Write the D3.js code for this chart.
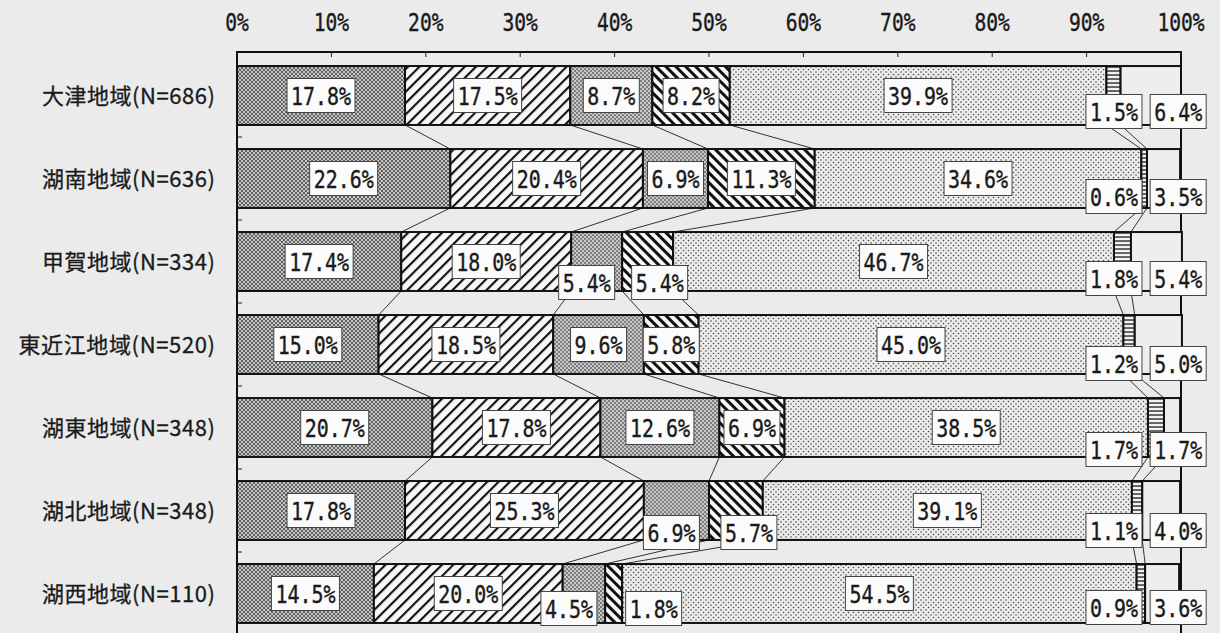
<!DOCTYPE html>
<html>
<head>
<meta charset="utf-8">
<script src="https://cdn.jsdelivr.net/npm/d3@7"></script>
<style>
  body { margin: 0; background: #ebebeb; }
  svg { display: block; }
</style>
</head>
<body>
<svg id="chart" width="1220" height="633"></svg>
<script>
// regions (top to bottom)
const regions = ['大津地域(N=686)', '湖南地域(N=636)', '甲賀地域(N=334)', '東近江地域(N=520)',
  '湖東地域(N=348)', '湖北地域(N=348)', '湖西地域(N=110)']

// shares in %, seven answer groups per region
const otsu = [17.8, 17.5, 8.7, 8.2, 39.9, 1.5, 6.4]
const konan = [22.6, 20.4, 6.9, 11.3, 34.6, 0.6, 3.5]
const koka = [17.4, 18.0, 5.4, 5.4, 46.7, 1.8, 5.4]
const higashiOmi = [15.0, 18.5, 9.6, 5.8, 45.0, 1.2, 5.0]
const koto = [20.7, 17.8, 12.6, 6.9, 38.5, 1.7, 1.7]
const kohoku = [17.8, 25.3, 6.9, 5.7, 39.1, 1.1, 4.0]
const kosei = [14.5, 20.0, 4.5, 1.8, 54.5, 0.9, 3.6]
const rows = [otsu, konan, koka, higashiOmi, koto, kohoku, kosei]

const tickValues = [0, 10, 20, 30, 40, 50, 60, 70, 80, 90, 100]

// hand placed labels: "row-series" -> nudge (px) from the segment centre
const nudges = {
  '2-2': [-10, 21], '2-3': [12, 21],
  '5-2': [-5, 22], '5-3': [13, 22],
  '6-2': [-15, 15], '6-3': [40, 15]
}
// the two small tail groups get fixed slots under the right end
const tailSlots = [92.9, 99.7]
const tailDy = [16, 18, 17, 19, 22, 20, 14]

const svg = d3.select('#chart')
const defs = svg.append('defs')

const x = d3.scaleLinear().domain([0, 100]).range([237, 1181])
const y = d3.scaleBand().domain(regions).range([54, 635])
  .paddingInner(0.29).paddingOuter(0.145)

// ---- fill patterns (scanned b/w hatches) ----
function pattern(id, w, h, bg, transform) {
  const p = defs.append('pattern').attr('id', id)
    .attr('patternUnits', 'userSpaceOnUse')
    .attr('width', w).attr('height', h)
  if (transform) p.attr('patternTransform', transform)
  p.append('rect').attr('width', w).attr('height', h).attr('fill', bg)
  return p
}
// 1: cross hatch, mid grey
let p = pattern('p0', 4, 4, '#c8c8c8')
p.append('path').attr('d', 'M0,0L4,4M4,0L0,4').attr('stroke', '#555').attr('stroke-width', 0.9)
// 2: forward diagonal
p = pattern('p1', 8, 8, '#f7f7f7', 'rotate(45)')
p.append('line').attr('x1', 1).attr('x2', 1).attr('y1', 0).attr('y2', 8).attr('stroke', '#111').attr('stroke-width', 2.3)
// 3: dark stipple
p = pattern('p2', 4, 4, '#7d7d7d')
p.append('circle').attr('cx', 1).attr('cy', 1).attr('r', 0.9).attr('fill', '#eee')
p.append('circle').attr('cx', 3).attr('cy', 3).attr('r', 0.9).attr('fill', '#eee')
// 4: back diagonal, heavy
p = pattern('p3', 7, 7, '#f7f7f7', 'rotate(-45)')
p.append('line').attr('x1', 1.5).attr('x2', 1.5).attr('y1', 0).attr('y2', 7).attr('stroke', '#111').attr('stroke-width', 3)
// 5: light dots
p = pattern('p4', 5, 5, '#ececec')
p.append('circle').attr('cx', 1).attr('cy', 1).attr('r', 0.8).attr('fill', '#444')
p.append('circle').attr('cx', 3.5).attr('cy', 3.5).attr('r', 0.8).attr('fill', '#444')
// 6: horizontal lines
p = pattern('p5', 4, 4, '#f4f4f4')
p.append('line').attr('x1', 0).attr('x2', 4).attr('y1', 1).attr('y2', 1).attr('stroke', '#333').attr('stroke-width', 1.5)
const fills = ['url(#p0)', 'url(#p1)', 'url(#p2)', 'url(#p3)', 'url(#p4)', 'url(#p5)', '#eeeeee']

// cumulative positions
const stacks = rows.map(r => {
  let acc = 0
  return r.map(v => { const s = { x0: acc, x1: acc + v, v: v }; acc += v; return s })
})

// ---- frame ----
svg.append('rect').attr('x', x(0)).attr('y', 52)
  .attr('width', x(100) - x(0)).attr('height', 640)
  .attr('fill', 'none').attr('stroke', '#111').attr('stroke-width', 2)

svg.append('g').selectAll('line').data(tickValues).join('line')
  .attr('x1', d => x(d)).attr('x2', d => x(d))
  .attr('y1', 52).attr('y2', 57)
  .attr('stroke', '#222')

svg.append('g').selectAll('line').data(d3.range(1, regions.length)).join('line')
  .attr('x1', x(0)).attr('x2', x(0) + 5)
  .attr('y1', i => y.range()[0] + i * y.step())
  .attr('y2', i => y.range()[0] + i * y.step())
  .attr('stroke', '#222')

// ---- connector lines between bars ----
const links = []
for (let i = 0; i < rows.length - 1; i++) {
  for (let k = 0; k < 6; k++) {
    links.push({ a: stacks[i][k].x1, b: stacks[i + 1][k].x1, i: i })
  }
}
svg.append('g').selectAll('line').data(links).join('line')
  .attr('x1', d => x(d.a)).attr('y1', d => y(regions[d.i]) + y.bandwidth())
  .attr('x2', d => x(d.b)).attr('y2', d => y(regions[d.i + 1]))
  .attr('stroke', '#333').attr('stroke-width', 1)

// ---- bars ----
const bar = svg.append('g').selectAll('g').data(stacks).join('g')
  .attr('transform', (d, i) => 'translate(0,' + y(regions[i]) + ')')

bar.selectAll('rect').data(d => d).join('rect')
  .attr('x', d => x(d.x0))
  .attr('width', d => x(d.x1) - x(d.x0))
  .attr('height', y.bandwidth())
  .attr('fill', (d, k) => fills[k])
  .attr('stroke', '#111').attr('stroke-width', 2)

// ---- value labels ----
const labels = []
stacks.forEach((r, i) => r.forEach((s, k) => {
  let cx = x((s.x0 + s.x1) / 2)
  let cy = y(regions[i]) + y.bandwidth() / 2
  if (k >= 5) {
    cx = x(tailSlots[k - 5])
    cy += tailDy[i]
  } else if (nudges[i + '-' + k]) {
    cx += nudges[i + '-' + k][0]
    cy += nudges[i + '-' + k][1]
  }
  labels.push({ text: s.v.toFixed(1) + '%', cx: cx, cy: cy })
}))

const lab = svg.append('g').selectAll('g').data(labels).join('g')
  .attr('transform', d => 'translate(' + d.cx + ',' + d.cy + ')')
lab.append('rect')
  .attr('x', d => -(d.text.length * 12 + 8) / 2)
  .attr('y', -17)
  .attr('width', d => d.text.length * 12 + 8)
  .attr('height', 34)
  .attr('fill', '#fbfbfb').attr('stroke', '#444').attr('stroke-width', 1)
lab.append('text')
  .attr('y', 9)
  .attr('text-anchor', 'middle')
  .attr('font-family', 'DejaVu Sans Mono')
  .attr('font-size', 25)
  .attr('textLength', d => d.text.length * 12)
  .attr('lengthAdjust', 'spacingAndGlyphs')
  .attr('fill', '#1a1a1a')
  .attr('stroke', '#1a1a1a').attr('stroke-width', 0.4)
  .text(d => d.text)

// ---- axis tick labels ----
svg.append('g').selectAll('text').data(tickValues).join('text')
  .attr('x', d => x(d)).attr('y', 31)
  .attr('text-anchor', 'middle')
  .attr('font-family', 'DejaVu Sans Mono')
  .attr('font-size', 24)
  .attr('textLength', d => (d + '%').length * 11.8)
  .attr('lengthAdjust', 'spacingAndGlyphs')
  .attr('fill', '#1a1a1a')
  .attr('stroke', '#1a1a1a').attr('stroke-width', 0.4)
  .text(d => d + '%')

// ---- region labels ----
const fullWidth = s => s.replace(/[\x00-\x7f]/g, '').length
svg.append('g').selectAll('text').data(regions).join('text')
  .attr('x', 215)
  .attr('y', d => y(d) + y.bandwidth() / 2 + 8)
  .attr('text-anchor', 'end')
  .attr('font-family', 'Noto Sans CJK JP')
  .attr('font-size', 22)
  .attr('textLength', d => fullWidth(d) * 23.5 + (d.length - fullWidth(d)) * 11.3)
  .attr('lengthAdjust', 'spacing')
  .attr('fill', '#1a1a1a')
  .attr('stroke', '#1a1a1a').attr('stroke-width', 0.3)
  .text(d => d)
</script>
</body>
</html>
